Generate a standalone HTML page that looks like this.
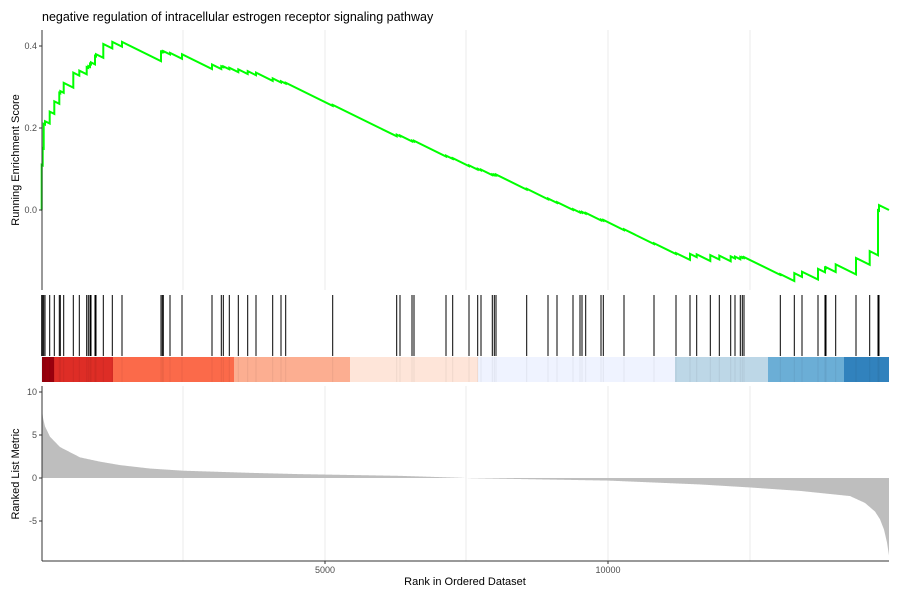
<!DOCTYPE html>
<html><head><meta charset="utf-8"><style>body{margin:0;background:#fff}svg{display:block;font-family:"Liberation Sans",sans-serif}</style></head>
<body><svg id="s" width="900" height="600" viewBox="0 0 900 600">
<rect width="900" height="600" fill="#fff"/>
<g stroke="#ebebeb" stroke-width="1">
<line x1="183" y1="30" x2="183" y2="290"/><line x1="325" y1="30" x2="325" y2="290"/><line x1="466" y1="30" x2="466" y2="290"/><line x1="608" y1="30" x2="608" y2="290"/><line x1="750" y1="30" x2="750" y2="290"/>
<line x1="183" y1="386" x2="183" y2="561"/><line x1="325" y1="386" x2="325" y2="561"/><line x1="466" y1="386" x2="466" y2="561"/><line x1="608" y1="386" x2="608" y2="561"/><line x1="750" y1="386" x2="750" y2="561"/>
</g>
<g id="band"></g><g id="bars" stroke="#000" stroke-width="1"></g>
<polygon id="fill" fill="#bebebe"/>
<polyline id="es" fill="none" stroke="#00ff00" stroke-width="2"/>
<g stroke="#333" stroke-width="1"><line x1="42" y1="30" x2="42" y2="290"/><line x1="42" y1="386" x2="42" y2="561"/><line x1="42" y1="561" x2="889" y2="561"/>
<line x1="39" y1="46" x2="42" y2="46"/><line x1="39" y1="128" x2="42" y2="128"/><line x1="39" y1="210" x2="42" y2="210"/>
<line x1="39" y1="392" x2="42" y2="392"/><line x1="39" y1="435" x2="42" y2="435"/><line x1="39" y1="478" x2="42" y2="478"/><line x1="39" y1="521" x2="42" y2="521"/>
<line x1="325" y1="561" x2="325" y2="564"/><line x1="608" y1="561" x2="608" y2="564"/></g>
<g fill="#4d4d4d" font-size="9" text-anchor="end">
<text x="37" y="49">0.4</text><text x="37" y="131">0.2</text><text x="37" y="213">0.0</text>
<text x="37" y="395">10</text><text x="37" y="438">5</text><text x="37" y="481">0</text><text x="37" y="524">-5</text></g>
<g fill="#4d4d4d" font-size="9" text-anchor="middle"><text x="325" y="573">5000</text><text x="608" y="573">10000</text></g>
<text x="42" y="21" font-size="12.5" fill="#000">negative regulation of intracellular estrogen receptor signaling pathway</text>
<text x="465" y="585" font-size="11" text-anchor="middle">Rank in Ordered Dataset</text>
<text transform="translate(19,160) rotate(-90)" font-size="11" text-anchor="middle">Running Enrichment Score</text>
<text transform="translate(19,474) rotate(-90)" font-size="11" text-anchor="middle">Ranked List Metric</text>
</svg>
<script>
var hits=[41.7,42.7,43.7,45,49.7,54.3,59.3,60.3,63.7,73.3,79.3,86.7,88.3,90,91,95,96,103.3,112.3,122,161,162.3,163.3,170,182,212,221.3,223.3,229.3,238.3,247.7,256,272.7,281,285.7,332.7,396.7,400,412,414,446,452.7,469,477.7,481,492.3,494.3,496,526.7,548,557,573,580,582,585.7,601,603.3,624,654,676,690,696.7,710.3,719.3,730.7,735,740.3,742.3,744,780.3,794.3,802,818,825,826,835.7,856,869.7,878,879];
var mp=[[42,8],[43,7],[45,6],[50,4.8],[60,3.6],[80,2.4],[100,1.9],[120,1.5],[150,1.1],[183,0.85],[250,0.6],[300,0.45],[400,0.25],[460,0.03],[470,-0.02],[608,-0.3],[700,-0.75],[750,-1.1],[800,-1.5],[850,-2.1],[865,-2.9],[875,-3.9],[880,-4.8],[884,-6],[887,-7.5],[889,-9]];
function ip(arr,x){if(x<=arr[0][0])return arr[0][1];for(var i=1;i<arr.length;i++)if(x<=arr[i][0]){var a=arr[i-1],b=arr[i];return a[1]+(b[1]-a[1])*(x-a[0])/(b[0]-a[0]);}return arr[arr.length-1][1];}
var NS="http://www.w3.org/2000/svg";
function el(t,a,p){var e=document.createElementNS(NS,t);for(var k in a)e.setAttribute(k,a[k]);document.getElementById(p).appendChild(e);}
hits.forEach(function(x){el("line",{x1:x,y1:295,x2:x,y2:356},"bars");});
var segs=[[42,54,"#99000d"],[54,113,"#de2d26"],[113,234,"#fb6a4a"],[234,350,"#fcae91"],[350,478,"#fee5d9"],[478,675,"#eff3ff"],[675,768,"#bdd7e7"],[768,844,"#6baed6"],[844,889,"#3182bd"]];
segs.forEach(function(s){el("rect",{x:s[0],y:357,width:s[1]-s[0],height:25,fill:s[2]},"band");});
hits.forEach(function(x){el("rect",{x:x-0.5,y:357,width:1,height:25,fill:"#000","fill-opacity":0.06},"band");});
var pts=["42,478"];for(var x=42;x<=889;x+=0.5){pts.push(x+","+(478-ip(mp,x)*8.6).toFixed(2));}pts.push("889,478");
document.getElementById("fill").setAttribute("points",pts.join(" "));
var T=[[42,0.11],[43.7,0.21],[49.7,0.24],[54.3,0.265],[60.3,0.29],[63.7,0.31],[73.3,0.335],[79.3,0.34],[88,0.35],[91,0.36],[96,0.38],[103.3,0.405],[112.3,0.41],[122,0.41],[163.3,0.385],[182,0.38],[212,0.355],[256,0.335],[285.7,0.31],[400,0.18],[600,-0.03],[653,-0.09],[676,-0.105],[744,-0.115],[780,-0.16],[826,-0.14],[856,-0.117],[870,-0.1],[879,0.012]];
var s=0.0012,es=0,p=["42,210"],lastx=42;
hits.forEach(function(x){es-=s*(x-lastx);p.push(x+","+(210-es*410).toFixed(2));var t=ip(T,x);es=Math.max(es+0.002,t);p.push(x+","+(210-es*410).toFixed(2));lastx=x;});
es-=s*(889-lastx);p.push("889,"+(210-es*410).toFixed(2));
document.getElementById("es").setAttribute("points",p.join(" "));
</script>
</body></html>
